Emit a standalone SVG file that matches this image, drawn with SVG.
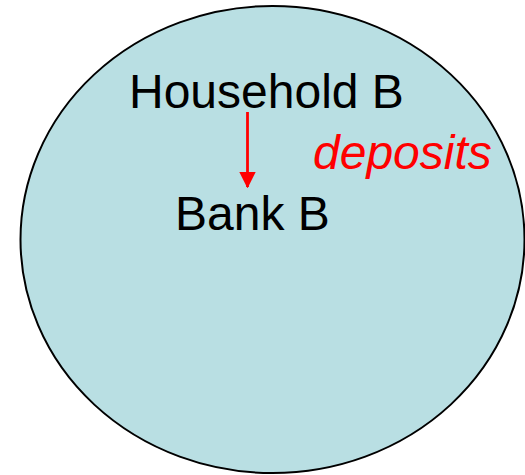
<svg xmlns="http://www.w3.org/2000/svg" width="525" height="475" viewBox="0 0 525 475">
<style>
.lbl{font-family:"Liberation Sans",Arial,sans-serif;font-size:48px;fill:#000}
.edge{font-family:"Liberation Sans",Arial,sans-serif;font-size:48px;font-style:italic;fill:#FF0000}
</style>
<defs>
<marker id="ah" markerWidth="6" markerHeight="6" refX="5.5" refY="3" orient="auto" markerUnits="strokeWidth">
<path d="M0,0 L6,3 L0,6 Z" fill="#FF0000"/>
</marker>
</defs>
<rect width="525" height="475" fill="#FFFFFF"/>
<g id="circle">
<ellipse cx="272.5" cy="239.5" rx="252" ry="233.5" fill="#B9DFE3" stroke="#000" stroke-width="2"/>
</g>
<g id="household">
<text class="lbl" x="129" y="108">Household B</text>
</g>
<g id="bank">
<text class="lbl" x="175" y="230">Bank B</text>
</g>
<g id="connectors">
<line x1="247.5" y1="112" x2="247.5" y2="187" stroke="#FF0000" stroke-width="2.8" marker-end="url(#ah)"/>
<text class="edge" x="313" y="169">deposits</text>
</g>
</svg>
